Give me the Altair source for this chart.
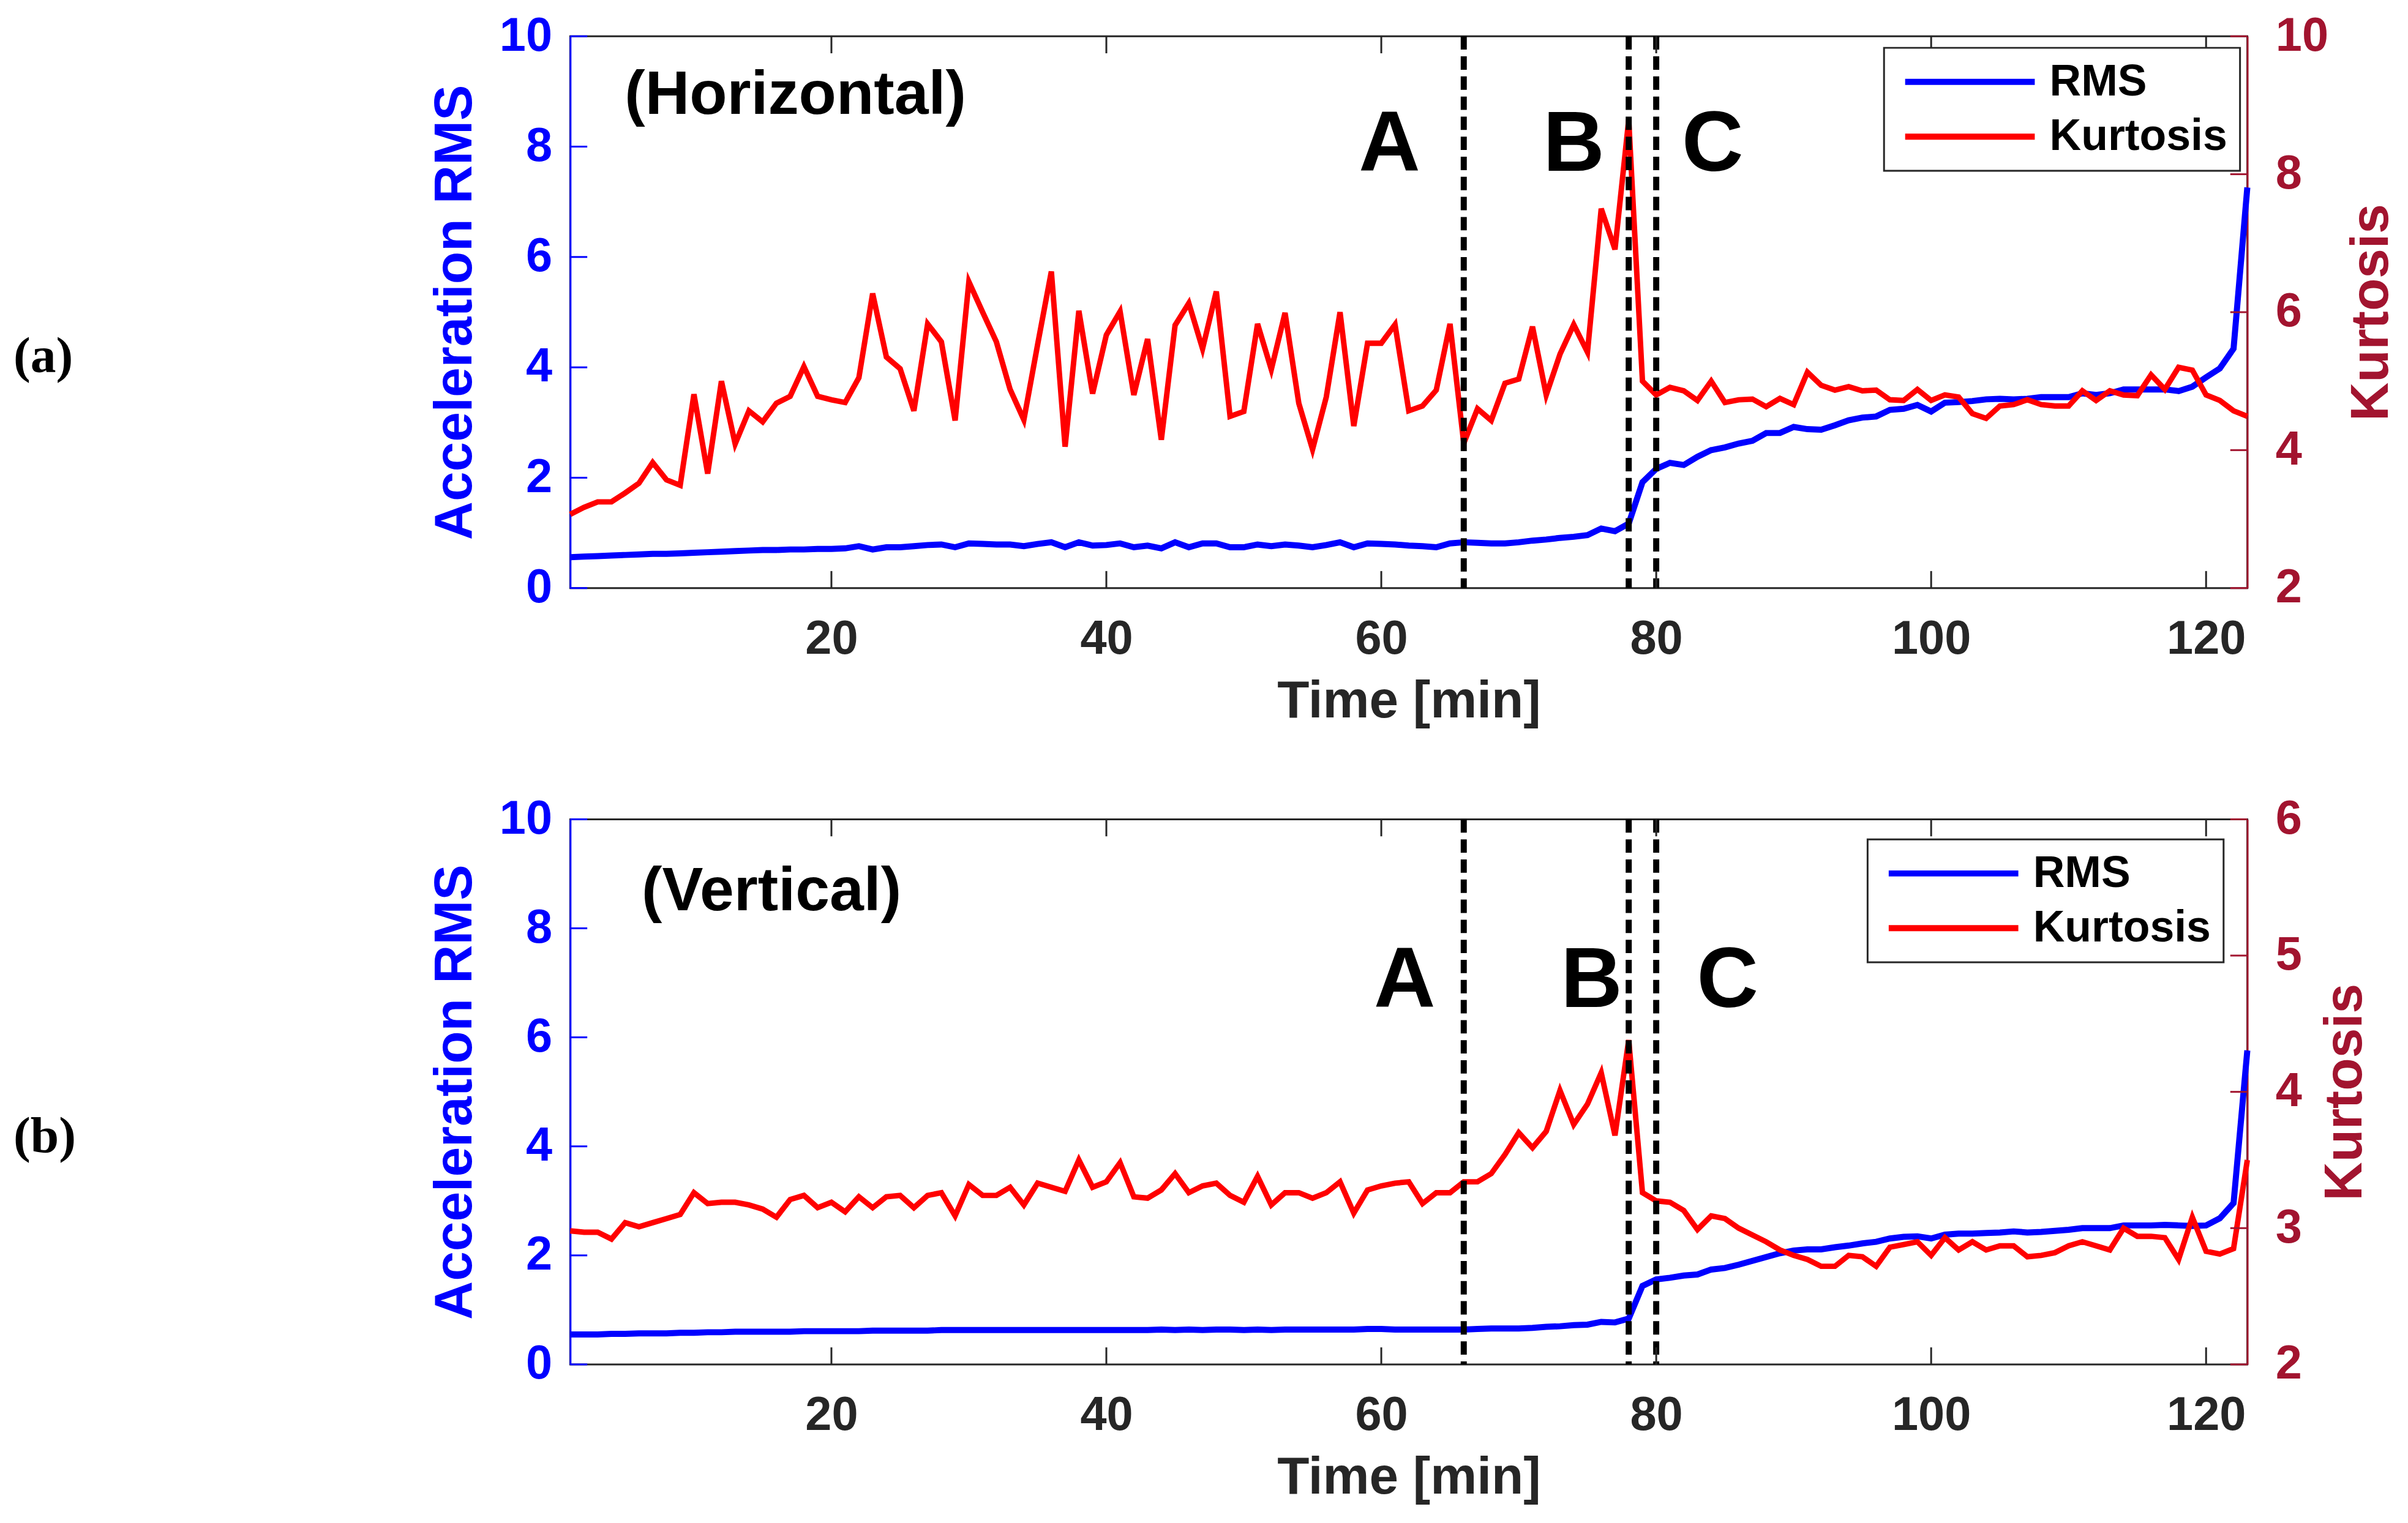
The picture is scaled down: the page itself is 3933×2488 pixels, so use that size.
import altair as alt
import pandas as pd

# time axis, one sample per minute
time_min = list(range(1, 124))

# (a) horizontal direction
h_rms = [
    0.56, 0.57, 0.58, 0.59, 0.60, 0.61, 0.62, 0.62, 0.63, 0.64,
    0.65, 0.66, 0.67, 0.68, 0.69, 0.69, 0.70, 0.70, 0.71, 0.71,
    0.72, 0.76, 0.70, 0.74, 0.74, 0.76, 0.78, 0.79, 0.74, 0.81,
    0.80, 0.79, 0.79, 0.76, 0.80, 0.83, 0.74, 0.83, 0.77, 0.78,
    0.81, 0.74, 0.77, 0.72, 0.83, 0.74, 0.81, 0.81, 0.74, 0.74,
    0.79, 0.76, 0.79, 0.77, 0.74, 0.78, 0.83, 0.74, 0.81, 0.80,
    0.79, 0.77, 0.76, 0.74, 0.81, 0.83, 0.82, 0.81, 0.81, 0.83,
    0.86, 0.88, 0.91, 0.93, 0.96, 1.08, 1.03, 1.17, 1.92, 2.16,
    2.27, 2.23, 2.38, 2.50, 2.55, 2.62, 2.67, 2.81, 2.81, 2.92,
    2.88, 2.87, 2.95, 3.04, 3.09, 3.11, 3.23, 3.25, 3.32, 3.20,
    3.36, 3.37, 3.39, 3.42, 3.43, 3.42, 3.43, 3.46, 3.46, 3.46,
    3.53, 3.50, 3.53, 3.60, 3.60, 3.60, 3.60, 3.57, 3.65, 3.82,
    3.98, 4.34, 7.26,
]
h_kurt = [
    3.07, 3.17, 3.25, 3.25, 3.38, 3.52, 3.82, 3.57, 3.49, 4.81,
    3.66, 5.00, 4.09, 4.57, 4.41, 4.68, 4.78, 5.21, 4.78, 4.73,
    4.69, 5.05, 6.27, 5.35, 5.18, 4.57, 5.83, 5.57, 4.43, 6.44,
    6.00, 5.57, 4.88, 4.44, 5.53, 6.59, 4.05, 6.02, 4.82, 5.67,
    6.01, 4.80, 5.61, 4.15, 5.81, 6.13, 5.47, 6.30, 4.49, 4.56,
    5.83, 5.17, 5.99, 4.68, 4.01, 4.77, 6.00, 4.35, 5.55, 5.55,
    5.82, 4.57, 4.64, 4.87, 5.83, 4.10, 4.60, 4.43, 4.97, 5.03,
    5.79, 4.80, 5.39, 5.82, 5.42, 7.50, 6.91, 8.79, 5.00, 4.80,
    4.91, 4.86, 4.72, 5.00, 4.69, 4.73, 4.74, 4.63, 4.75, 4.66,
    5.13, 4.94, 4.87, 4.92, 4.86, 4.87, 4.73, 4.72, 4.88, 4.72,
    4.80, 4.77, 4.53, 4.46, 4.64, 4.66, 4.73, 4.66, 4.64, 4.64,
    4.86, 4.72, 4.86, 4.80, 4.79, 5.09, 4.88, 5.20, 5.16, 4.80,
    4.72, 4.57, 4.49,
]

# (b) vertical direction
v_rms = [
    0.55, 0.55, 0.55, 0.56, 0.56, 0.57, 0.57, 0.57, 0.58, 0.58,
    0.59, 0.59, 0.60, 0.60, 0.60, 0.60, 0.60, 0.61, 0.61, 0.61,
    0.61, 0.61, 0.62, 0.62, 0.62, 0.62, 0.62, 0.63, 0.63, 0.63,
    0.63, 0.63, 0.63, 0.63, 0.63, 0.63, 0.63, 0.63, 0.63, 0.63,
    0.63, 0.63, 0.63, 0.64, 0.63, 0.64, 0.63, 0.64, 0.64, 0.63,
    0.64, 0.63, 0.64, 0.64, 0.64, 0.64, 0.64, 0.64, 0.65, 0.65,
    0.64, 0.64, 0.64, 0.64, 0.64, 0.64, 0.65, 0.66, 0.66, 0.66,
    0.67, 0.69, 0.70, 0.72, 0.73, 0.78, 0.77, 0.84, 1.44, 1.56,
    1.59, 1.63, 1.65, 1.74, 1.77, 1.83, 1.90, 1.97, 2.04, 2.09,
    2.11, 2.11, 2.15, 2.18, 2.22, 2.25, 2.31, 2.34, 2.35, 2.31,
    2.38, 2.40, 2.40, 2.41, 2.42, 2.44, 2.42, 2.43, 2.45, 2.47,
    2.50, 2.50, 2.50, 2.55, 2.55, 2.55, 2.56, 2.55, 2.54, 2.55,
    2.68, 2.96, 5.76,
]
v_kurt = [
    2.98, 2.97, 2.97, 2.92, 3.04, 3.01, 3.04, 3.07, 3.10, 3.26,
    3.18, 3.19, 3.19, 3.17, 3.14, 3.08, 3.21, 3.24, 3.15, 3.19,
    3.12, 3.23, 3.15, 3.23, 3.24, 3.15, 3.24, 3.26, 3.09, 3.32,
    3.24, 3.24, 3.30, 3.17, 3.33, 3.30, 3.27, 3.50, 3.30, 3.34,
    3.48, 3.23, 3.22, 3.28, 3.40, 3.26, 3.31, 3.33, 3.24, 3.19,
    3.38, 3.17, 3.26, 3.26, 3.22, 3.26, 3.34, 3.11, 3.28, 3.31,
    3.33, 3.34, 3.18, 3.26, 3.26, 3.34, 3.34, 3.40, 3.54, 3.70,
    3.59, 3.71, 4.01, 3.76, 3.91, 4.14, 3.68, 4.38, 3.26, 3.20,
    3.19, 3.13, 2.99, 3.09, 3.07, 3.00, 2.95, 2.90, 2.84, 2.80,
    2.77, 2.72, 2.72, 2.80, 2.79, 2.72, 2.86, 2.88, 2.90, 2.80,
    2.93, 2.84, 2.90, 2.84, 2.87, 2.87, 2.79, 2.80, 2.82, 2.87,
    2.90, 2.87, 2.84, 3.00, 2.94, 2.94, 2.93, 2.77, 3.08, 2.83,
    2.81, 2.85, 3.50,
]

x_ticks = [20, 40, 60, 80, 100, 120]
rms_ticks = [0, 2, 4, 6, 8, 10]
h_kurt_ticks = [2, 4, 6, 8, 10]
v_kurt_ticks = [2, 3, 4, 5, 6]
event_times = [66, 78, 80]
event_names = ["A", "B", "C"]
series_names = ["RMS", "Kurtosis"]

BLUE = "#0000FF"
RED = "#FF0000"
DARKRED = "#A2142F"
GRAY = "#262626"
FONT = "Liberation Sans"
W = 2756

time_scale = alt.Scale(domain=[1, 123], nice=False, zero=False)
rms_scale = alt.Scale(domain=[0, 10], nice=False, zero=False)
color_scale = alt.Scale(domain=series_names, range=[BLUE, RED])
x_axis = alt.Axis(values=x_ticks, title="Time [min]", labelColor=GRAY, titleColor=GRAY,
                  labelFontSize=78, titleFontSize=86, domain=False, ticks=False,
                  labelPadding=45, titlePadding=21, labelFlush=False, grid=False)


def xenc(field):
    return alt.X(field, scale=time_scale, axis=x_axis)


def panel(rms, kurt, kurt_ticks, height, title, title_pos, letter_pos, tag, tag_y, legend_xy):
    kurt_scale = alt.Scale(domain=[kurt_ticks[0], kurt_ticks[-1]], nice=False, zero=False)
    df = pd.DataFrame({"time": time_min, "rms": rms, "kurt": kurt})
    legend = alt.Legend(title=None, orient="none", legendX=legend_xy[0], legendY=legend_xy[1],
                        labelFont=FONT, labelFontWeight=700, labelFontSize=72,
                        labelColor="black")

    rms_line = alt.Chart(df).transform_calculate(series="'RMS'").mark_line(strokeWidth=10).encode(
        x=xenc("time:Q"),
        y=alt.Y("rms:Q", scale=rms_scale,
                axis=alt.Axis(values=rms_ticks, title="Acceleration RMS", labelColor=BLUE,
                              titleColor=BLUE, domainColor=BLUE, domainWidth=3, ticks=False,
                              labelFontSize=78, titleFontSize=88, labelPadding=30,
                              titlePadding=28, labelFlush=False, grid=False)),
        color=alt.Color("series:N", scale=color_scale, legend=legend),
    )
    kurt_line = alt.Chart(df).transform_calculate(series="'Kurtosis'").mark_line(strokeWidth=9).encode(
        x=xenc("time:Q"),
        y=alt.Y("kurt:Q", scale=kurt_scale,
                axis=alt.Axis(orient="right", values=kurt_ticks, title="Kurtosis",
                              labelColor=DARKRED, titleColor=DARKRED, domainColor=DARKRED,
                              domainWidth=3, ticks=False, labelFontSize=78, titleFontSize=88,
                              labelPadding=46, titlePadding=28, titleAngle=270,
                              titleBaseline="top", labelFlush=False, grid=False)),
        color=alt.Color("series:N", scale=color_scale, legend=legend),
    )

    events = alt.Chart(pd.DataFrame({"t": event_times})).mark_rule(
        color="black", strokeWidth=10, strokeDash=[22, 11]
    ).encode(x=xenc("t:Q"))

    letters = alt.Chart(pd.DataFrame({
        "t": [p[0] for p in letter_pos], "y": [p[1] for p in letter_pos], "name": event_names
    })).mark_text(font=FONT, fontSize=140, fontWeight="bold", color="black",
                  baseline="middle").encode(
        x=xenc("t:Q"),
        y=alt.Y("y:Q", scale=rms_scale, axis=None),
        text="name:N",
    )

    heading = alt.Chart(pd.DataFrame({"t": [title_pos[0]], "y": [title_pos[1]], "s": [title]})).mark_text(
        font=FONT, fontSize=101, fontWeight="bold", color="black", align="left", baseline="middle"
    ).encode(
        x=xenc("t:Q"),
        y=alt.Y("y:Q", scale=rms_scale, axis=None),
        text="s:N",
    )

    # inward ticks, MATLAB style
    tick_x = pd.DataFrame({"v": x_ticks})
    bottom_ticks = alt.Chart(tick_x).mark_rule(color=GRAY, strokeWidth=3).encode(
        x=xenc("v:Q"), y=alt.value(height), y2=alt.value(height - 28))
    top_ticks = alt.Chart(tick_x).mark_rule(color=GRAY, strokeWidth=3).encode(
        x=xenc("v:Q"), y=alt.value(0), y2=alt.value(28))
    left_ticks = alt.Chart(pd.DataFrame({"v": rms_ticks})).mark_rule(color=BLUE, strokeWidth=3).encode(
        y=alt.Y("v:Q", scale=rms_scale, axis=None), x=alt.value(0), x2=alt.value(28))
    right_ticks = alt.Chart(pd.DataFrame({"v": kurt_ticks})).mark_rule(color=DARKRED, strokeWidth=3).encode(
        y=alt.Y("v:Q", scale=kurt_scale, axis=None), x=alt.value(W), x2=alt.value(W - 28))

    tag_text = alt.Chart(pd.DataFrame({"s": [tag]})).mark_text(
        font="Liberation Serif", fontSize=84, fontWeight="bold", color="black",
        align="left", baseline="middle"
    ).encode(x=alt.value(-915), y=alt.value(tag_y), text="s:N")

    return alt.layer(
        rms_line, kurt_line, events, letters, heading,
        bottom_ticks, top_ticks, left_ticks, right_ticks, tag_text
    ).resolve_scale(y="independent").properties(width=W, height=height)


top = panel(h_rms, h_kurt, h_kurt_ticks, 907, "(Horizontal)", (4.96, 8.92),
            [(60.6, 8.03), (74.0, 8.03), (84.1, 8.03)], "(a)", 527, (2159, 19))
bottom = panel(v_rms, v_kurt, v_kurt_ticks, 896, "(Vertical)", (6.2, 8.67),
               [(61.7, 7.03), (75.3, 7.03), (85.2, 7.03)], "(b)", 522, (2132, 33))

chart = alt.vconcat(top, bottom, spacing=108).resolve_scale(
    color="independent"
).properties(
    padding={"left": 12, "top": 3, "right": 5, "bottom": 5}, background="white"
).configure_axis(
    labelFont=FONT, titleFont=FONT, labelFontWeight="bold", titleFontWeight="bold"
).configure_view(
    stroke=GRAY, strokeWidth=3
).configure_legend(
    symbolType="M-1,0H9", symbolSize=1815, symbolStrokeWidth=10, labelFont=FONT,
    labelFontSize=72, labelFontWeight=700, labelColor="black", labelOffset=180,
    labelLimit=600, padding=20, rowPadding=18, fillColor="white", strokeColor=GRAY,
    strokeWidth=3
)

chart.save("out.html", embed_options={"renderer": "svg", "actions": False})
